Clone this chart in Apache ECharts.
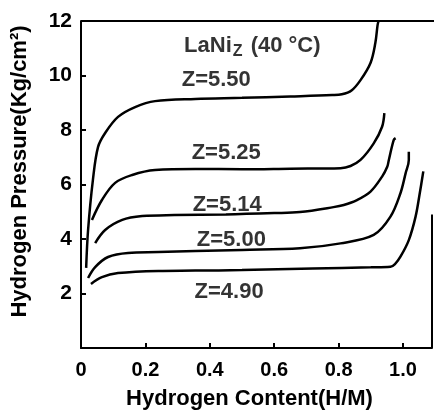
<!DOCTYPE html>
<html>
<head>
<meta charset="utf-8">
<script src="https://cdn.jsdelivr.net/npm/echarts@6/dist/echarts.min.js"></script>
<style>
  html, body { margin: 0; padding: 0; background: #fff; }
  #chart { width: 434px; height: 415px; }
</style>
</head>
<body>
<div id="chart"></div>
<script>
// LaNi_Z isotherms at 40 C, [H/M, pressure kg/cm2]
var z550 = [[0.016, 2.94], [0.022, 4.33], [0.037, 6.17], [0.053, 7.38], [0.075, 7.89], [0.115, 8.48], [0.168, 8.84], [0.23, 9.06], [0.355, 9.14], [0.5, 9.18], [0.65, 9.23], [0.78, 9.28], [0.81, 9.31], [0.84, 9.45], [0.868, 9.83], [0.899, 10.46], [0.914, 11.19], [0.921, 11.85], [0.924, 12]]
var z525 = [[0.034, 4.70], [0.065, 5.43], [0.106, 6.06], [0.159, 6.35], [0.23, 6.53], [0.355, 6.57], [0.5, 6.56], [0.65, 6.58], [0.806, 6.6], [0.837, 6.68], [0.868, 6.9], [0.909, 7.51], [0.935, 8.12], [0.942, 8.62]]
var z514 = [[0.044, 3.85], [0.075, 4.33], [0.128, 4.70], [0.19, 4.84], [0.29, 4.88], [0.45, 4.9], [0.6, 4.95], [0.68, 4.99], [0.784, 5.17], [0.816, 5.25], [0.857, 5.43], [0.899, 5.74], [0.935, 6.29], [0.951, 6.65], [0.956, 6.9], [0.971, 7.63], [0.977, 7.7]]
var z500 = [[0.022, 2.57], [0.044, 2.97], [0.084, 3.34], [0.146, 3.49], [0.24, 3.52], [0.355, 3.56], [0.5, 3.6], [0.68, 3.66], [0.806, 3.84], [0.909, 4.15], [0.961, 4.82], [0.992, 5.68], [1.008, 6.41], [1.018, 6.9], [1.018, 7.2]]
var z490 = [[0.031, 2.35], [0.065, 2.6], [0.115, 2.75], [0.24, 2.83], [0.355, 2.84], [0.5, 2.86], [0.72, 2.92], [0.9, 2.96], [0.961, 2.98], [0.975, 3.08], [0.992, 3.35], [1.018, 3.96], [1.039, 4.82], [1.052, 5.68], [1.063, 6.48]]

// text placed in data coords
var notes = [
  { name: 'title', value: [0.532, 11.08] },
  { name: 'Z=5.50', value: [0.42, 9.83] },
  { name: 'Z=5.25', value: [0.451, 7.16] },
  { name: 'Z=5.14', value: [0.454, 5.25] },
  { name: 'Z=5.00', value: [0.467, 3.96] },
  { name: 'Z=4.90', value: [0.46, 2.06] }
]

var xMax = 1.09
var font = 'Liberation Sans'

function curve(name, data) {
  return {
    name: name,
    type: 'line',
    data: data,
    smooth: 0.35,
    symbol: 'none',
    lineStyle: { color: '#000', width: 2.5 },
    silent: true
  }
}

var chart = echarts.init(document.getElementById('chart'))
chart.setOption({
  animation: false,
  grid: { left: 81, right: 2, top: 21, bottom: 67 },
  xAxis: {
    type: 'value',
    min: 0,
    max: xMax,
    interval: 0.2,
    name: 'Hydrogen Content(H/M)',
    nameLocation: 'middle',
    nameGap: 40,
    nameTextStyle: { fontFamily: font, fontWeight: 'bold', fontSize: 22, color: '#000', padding: [0, 14, 0, 0] },
    axisLine: { lineStyle: { color: '#000', width: 2 } },
    axisTick: { inside: true, length: 5, lineStyle: { color: '#000', width: 2 } },
    axisLabel: {
      showMaxLabel: false,
      margin: 12,
      fontFamily: font,
      fontWeight: 'bold',
      fontSize: 20,
      color: '#000',
      formatter: function (v) { return v === 0 ? '0' : v.toFixed(1) }
    },
    splitLine: { show: false }
  },
  yAxis: {
    type: 'value',
    min: 0,
    max: 12,
    interval: 2,
    name: 'Hydrogen Pressure(Kg/cm\u00b2)',
    nameLocation: 'middle',
    nameGap: 50,
    nameTextStyle: { fontFamily: font, fontWeight: 'bold', fontSize: 22, color: '#000', padding: [0, 0, 0, 26] },
    axisLine: { lineStyle: { color: '#000', width: 2 } },
    axisTick: { inside: true, length: 5, lineStyle: { color: '#000', width: 2 } },
    axisLabel: { showMinLabel: false, margin: 9, fontFamily: font, fontWeight: 'bold', fontSize: 21, color: '#000' },
    splitLine: { show: false }
  },
  series: [
    curve('5.50', z550),
    curve('5.25', z525),
    curve('5.14', z514),
    curve('5.00', z500),
    curve('4.90', z490),
    {
      type: 'scatter',
      data: notes,
      symbolSize: 0,
      silent: true,
      label: {
        show: true,
        position: 'inside',
        fontFamily: font,
        fontWeight: 'bold',
        fontSize: 22,
        color: '#000',
        formatter: function (p) {
          return p.name === 'title' ? '{a|LaNi}{s|Z}{a| (40 \u00b0C)}' : p.name
        },
        rich: {
          a: { fontFamily: font, fontWeight: 'bold', fontSize: 22, color: '#000' },
          s: { fontFamily: font, fontWeight: 'bold', fontSize: 16, color: '#000', padding: [12, 2, 0, 1] }
        }
      }
    }
  ]
})

// frame: top edge and lower part of the right edge (upper part is missing in the scan)
var tl = chart.convertToPixel({ gridIndex: 0 }, [0, 12])
var tr = chart.convertToPixel({ gridIndex: 0 }, [xMax, 12])
var rMid = chart.convertToPixel({ gridIndex: 0 }, [xMax, 4.9])
var br = chart.convertToPixel({ gridIndex: 0 }, [xMax, 0])
chart.setOption({
  graphic: [
    { type: 'line', shape: { x1: tl[0], y1: tl[1], x2: tr[0] + 2, y2: tr[1] }, style: { stroke: '#000', lineWidth: 2 } },
    { type: 'line', shape: { x1: rMid[0], y1: rMid[1], x2: br[0], y2: br[1] }, style: { stroke: '#000', lineWidth: 2 } }
  ]
})
</script>
</body>
</html>
